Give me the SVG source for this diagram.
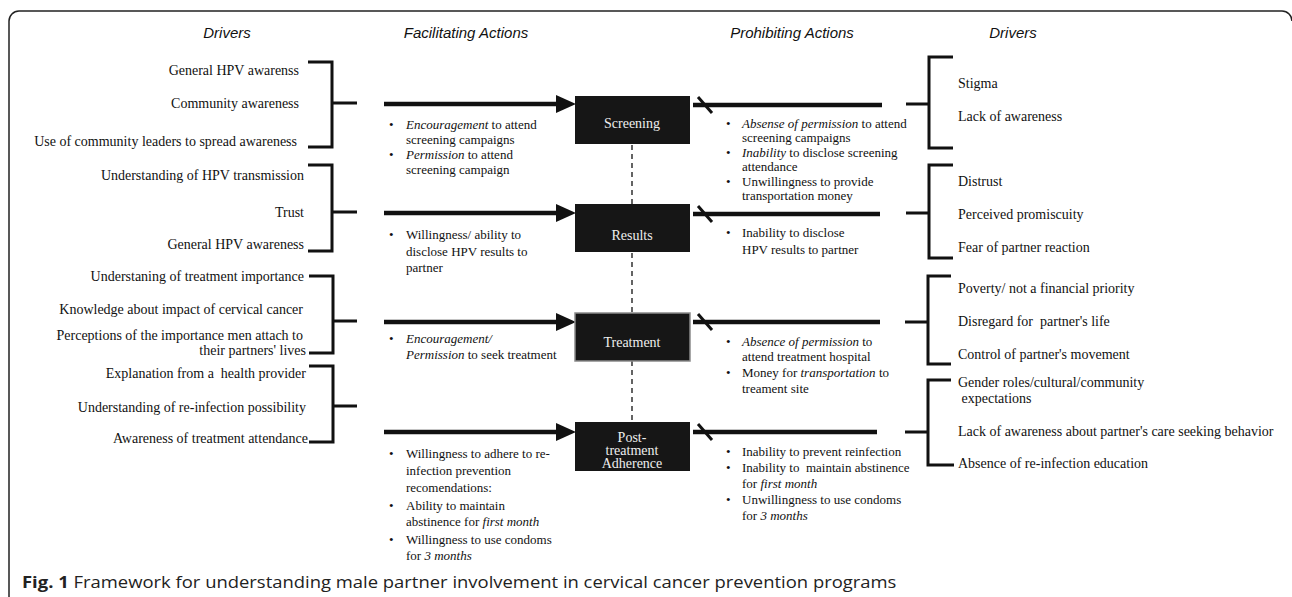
<svg xmlns="http://www.w3.org/2000/svg" width="1292" height="597" viewBox="0 0 1292 597">
<style>
.hdr{font-family:"Liberation Sans",Arial,sans-serif;font-style:italic;font-size:15px;fill:#111;text-anchor:middle}
.drv{font-family:"Liberation Serif","Times New Roman",serif;font-size:14px;fill:#111}
.l{text-anchor:end}
.bul{font-family:"Liberation Serif","Times New Roman",serif;font-size:13px;fill:#111}
.box{fill:#161616}
.boxt{font-family:"Liberation Serif","Times New Roman",serif;font-size:14px;fill:#eee;text-anchor:middle}
.br{fill:none;stroke:#111;stroke-width:3}
.arr{stroke:#111;stroke-width:4.5;fill:none}
.slash{stroke:#111;stroke-width:3}
.cap{font-family:"Open Sans","Noto Sans",sans-serif;font-size:15.5px;fill:#222}
</style>
<path d="M9 597 V21 A10 10 0 0 1 19 11 H1282 A10 10 0 0 1 1292 21" fill="none" stroke="#222" stroke-width="1.5"/>

<g id="headers">
<text class="hdr" x="227" y="38">Drivers</text>
<text class="hdr" x="466" y="38">Facilitating Actions</text>
<text class="hdr" x="792" y="38">Prohibiting Actions</text>
<text class="hdr" x="1013" y="38">Drivers</text>
</g>

<g id="connectors">
<line x1="632" y1="145" x2="632" y2="422" stroke="#111" stroke-width="1.3" stroke-dasharray="5,4"/>
<line class="arr" x1="384" y1="104" x2="560" y2="104"/><polygon points="556,95 576,104 556,113" fill="#111"/>
<line class="arr" x1="384" y1="213" x2="560" y2="213"/><polygon points="556,204 576,213 556,222" fill="#111"/>
<line class="arr" x1="384" y1="322" x2="560" y2="322"/><polygon points="556,313 576,322 556,331" fill="#111"/>
<line class="arr" x1="384" y1="432" x2="560" y2="432"/><polygon points="556,423 576,432 556,441" fill="#111"/>
<line class="arr" x1="693" y1="105" x2="882" y2="105"/><line class="slash" x1="698" y1="97" x2="712" y2="113"/>
<line class="arr" x1="693" y1="214" x2="880" y2="214"/><line class="slash" x1="698" y1="206" x2="712" y2="222"/>
<line class="arr" x1="693" y1="322" x2="880" y2="322"/><line class="slash" x1="698" y1="314" x2="712" y2="330"/>
<line class="arr" x1="693" y1="432" x2="877" y2="432"/><line class="slash" x1="698" y1="424" x2="712" y2="440"/>
</g>

<g id="node-screening"><rect class="box" x="575" y="96" width="115" height="48"/><text class="boxt" x="632" y="128">Screening</text></g>
<g id="node-results"><rect class="box" x="575" y="204" width="115" height="48"/><text class="boxt" x="632" y="240">Results</text></g>
<g id="node-treatment"><rect class="box" x="575" y="313" width="115" height="48" stroke="#8a8a8a" stroke-width="1.5"/><text class="boxt" x="632" y="347">Treatment</text></g>
<g id="node-post"><rect class="box" x="575" y="422" width="115" height="49"/><text class="boxt" x="632" y="442">Post-</text><text class="boxt" x="632" y="455">treatment</text><text class="boxt" x="632" y="468">Adherence</text></g>

<g id="left-drivers-1">
<path class="br" d="M308 62 H332 V147 H308 M332 103 H357"/>
<text class="drv l" x="299" y="75">General HPV awarenss</text>
<text class="drv l" x="299" y="108">Community awareness</text>
<text class="drv l" x="297" y="146">Use of community leaders to spread awareness</text>
</g>
<g id="left-drivers-2">
<path class="br" d="M308 165 H332 V251 H308 M332 212 H357"/>
<text class="drv l" x="304" y="180">Understanding of HPV transmission</text>
<text class="drv l" x="304" y="217">Trust</text>
<text class="drv l" x="304" y="249">General HPV awareness</text>
</g>
<g id="left-drivers-3">
<path class="br" d="M309 276 H333 V353 H309 M333 321 H357"/>
<text class="drv l" x="304" y="281">Understaning of treatment importance</text>
<text class="drv l" x="303" y="314">Knowledge about impact of cervical cancer</text>
<text class="drv l" x="303" y="340">Perceptions of the importance men attach to</text>
<text class="drv l" x="306" y="355">their partners' lives</text>
</g>
<g id="left-drivers-4">
<path class="br" d="M309 366 H333 V442 H309 M333 406 H357"/>
<text class="drv l" x="306" y="378" xml:space="preserve">Explanation from a  health provider</text>
<text class="drv l" x="306" y="412">Understanding of re-infection possibility</text>
<text class="drv l" x="308" y="443">Awareness of treatment attendance</text>
</g>

<g id="facilitating-1">
<text class="bul" x="389" y="129">•</text><text class="bul" x="406" y="129"><tspan font-style="italic">Encouragement</tspan> to attend</text>
<text class="bul" x="406" y="144">screening campaigns</text>
<text class="bul" x="389" y="159">•</text><text class="bul" x="406" y="159"><tspan font-style="italic">Permission</tspan> to attend</text>
<text class="bul" x="406" y="174">screening campaign</text>
</g>
<g id="facilitating-2">
<text class="bul" x="389" y="239">•</text><text class="bul" x="406" y="239">Willingness/ ability to</text>
<text class="bul" x="406" y="256">disclose HPV results to</text>
<text class="bul" x="406" y="272">partner</text>
</g>
<g id="facilitating-3">
<text class="bul" x="389" y="343">•</text><text class="bul" x="406" y="343" font-style="italic">Encouragement/</text>
<text class="bul" x="406" y="359"><tspan font-style="italic">Permission</tspan> to seek treatment</text>
</g>
<g id="facilitating-4">
<text class="bul" x="389" y="458">•</text><text class="bul" x="406" y="458">Willingness to adhere to re-</text>
<text class="bul" x="406" y="475">infection prevention</text>
<text class="bul" x="406" y="492">recomendations:</text>
<text class="bul" x="389" y="510">•</text><text class="bul" x="406" y="510">Ability to maintain</text>
<text class="bul" x="406" y="526">abstinence for <tspan font-style="italic">first month</tspan></text>
<text class="bul" x="389" y="544">•</text><text class="bul" x="406" y="544">Willingness to use condoms</text>
<text class="bul" x="406" y="560">for <tspan font-style="italic">3 months</tspan></text>
</g>

<g id="prohibiting-1">
<text class="bul" x="726" y="128">•</text><text class="bul" x="742" y="128"><tspan font-style="italic">Absense of permission</tspan> to attend</text>
<text class="bul" x="742" y="142">screening campaigns</text>
<text class="bul" x="726" y="157">•</text><text class="bul" x="742" y="157"><tspan font-style="italic">Inability</tspan> to disclose screening</text>
<text class="bul" x="742" y="171">attendance</text>
<text class="bul" x="726" y="186">•</text><text class="bul" x="742" y="186">Unwillingness to provide</text>
<text class="bul" x="742" y="200">transportation money</text>
</g>
<g id="prohibiting-2">
<text class="bul" x="726" y="237">•</text><text class="bul" x="742" y="237">Inability to disclose</text>
<text class="bul" x="742" y="254">HPV results to partner</text>
</g>
<g id="prohibiting-3">
<text class="bul" x="726" y="346">•</text><text class="bul" x="742" y="346"><tspan font-style="italic">Absence of permission</tspan> to</text>
<text class="bul" x="742" y="361">attend treatment hospital</text>
<text class="bul" x="726" y="377">•</text><text class="bul" x="742" y="377">Money for <tspan font-style="italic">transportation</tspan> to</text>
<text class="bul" x="742" y="393">treament site</text>
</g>
<g id="prohibiting-4">
<text class="bul" x="726" y="456">•</text><text class="bul" x="742" y="456">Inability to prevent reinfection</text>
<text class="bul" x="726" y="472">•</text><text class="bul" x="742" y="472" xml:space="preserve">Inability to  maintain abstinence</text>
<text class="bul" x="742" y="488">for <tspan font-style="italic">first month</tspan></text>
<text class="bul" x="726" y="504">•</text><text class="bul" x="742" y="504">Unwillingness to use condoms</text>
<text class="bul" x="742" y="520">for <tspan font-style="italic">3 months</tspan></text>
</g>

<g id="right-drivers-1">
<path class="br" d="M953 57 H929 V148 H953 M929 104 H906"/>
<text class="drv" x="958" y="88">Stigma</text>
<text class="drv" x="958" y="121">Lack of awareness</text>
</g>
<g id="right-drivers-2">
<path class="br" d="M953 165 H929 V258 H953 M929 213 H906"/>
<text class="drv" x="958" y="186">Distrust</text>
<text class="drv" x="958" y="219">Perceived promiscuity</text>
<text class="drv" x="958" y="252">Fear of partner reaction</text>
</g>
<g id="right-drivers-3">
<path class="br" d="M951 276 H928 V364 H951 M928 322 H905"/>
<text class="drv" x="958" y="293">Poverty/ not a financial priority</text>
<text class="drv" x="958" y="326" xml:space="preserve">Disregard for  partner's life</text>
<text class="drv" x="958" y="359">Control of partner's movement</text>
</g>
<g id="right-drivers-4">
<path class="br" d="M951 380 H928 V465 H954 M928 432 H905"/>
<text class="drv" x="958" y="387">Gender roles/cultural/community</text>
<text class="drv" x="958" y="403" xml:space="preserve"> expectations</text>
<text class="drv" x="958" y="436">Lack of awareness about partner's care seeking behavior</text>
<text class="drv" x="958" y="468">Absence of re-infection education</text>
</g>

<text class="cap" transform="translate(22,588) scale(1.19,1)"><tspan font-weight="bold">Fig. 1</tspan> Framework for understanding male partner involvement in cervical cancer prevention programs</text>
</svg>
